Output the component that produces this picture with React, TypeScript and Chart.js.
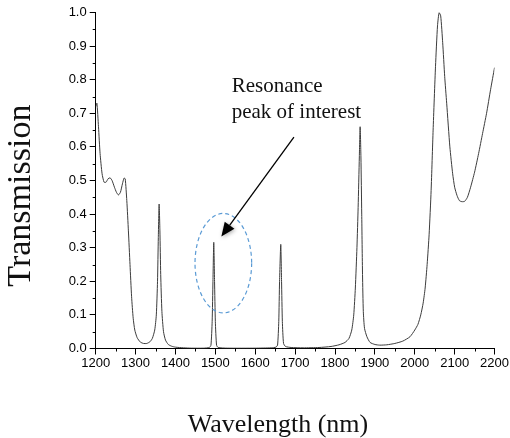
import React, { useEffect, useRef } from "react";
import { Chart, registerables } from "chart.js";

Chart.register(...registerables);

const wavelengths = [
  1200, 1203, 1207, 1211, 1216, 1221, 1226, 1231, 1236, 1241, 1247, 1252, 1257, 1262, 1267, 1271, 1274, 1278, 1282, 1286,
  1290, 1294, 1298, 1304, 1312, 1320, 1328, 1336, 1342, 1348, 1352, 1355, 1357, 1359, 1361, 1363, 1366, 1370, 1375, 1382,
  1390, 1400, 1420, 1440, 1470, 1485, 1489, 1492, 1494, 1496, 1498, 1500, 1503, 1507, 1530, 1600, 1640, 1652, 1656, 1659,
  1661, 1664, 1666, 1668, 1671, 1676, 1690, 1720, 1760, 1790, 1810, 1825, 1835, 1842, 1847, 1851, 1855, 1858, 1861, 1863,
  1865, 1867, 1869, 1871, 1874, 1880, 1888, 1900, 1912, 1930, 1950, 1970, 1988, 2000, 2008, 2015, 2021, 2026, 2031, 2036,
  2041, 2046, 2052, 2057, 2061, 2065, 2070, 2075, 2080, 2088, 2095, 2100, 2106, 2112, 2118, 2125, 2132, 2140, 2150, 2160,
  2170, 2180, 2190, 2200,
];

const transmission = [
  0.72, 0.73, 0.66, 0.58, 0.52, 0.495, 0.495, 0.505, 0.508, 0.50, 0.48, 0.465, 0.457, 0.465, 0.49, 0.507, 0.505, 0.44, 0.35, 0.25,
  0.154, 0.09, 0.055, 0.032, 0.019, 0.015, 0.015, 0.02, 0.03, 0.055, 0.10, 0.20, 0.33, 0.43, 0.35, 0.22, 0.11, 0.05, 0.025, 0.012,
  0.007, 0.004, 0.002, 0.001, 0.001, 0.003, 0.01, 0.08, 0.2, 0.316, 0.2, 0.08, 0.01, 0.003, 0.001, 0.001, 0.002, 0.004, 0.01, 0.08,
  0.2, 0.31, 0.2, 0.08, 0.015, 0.006, 0.003, 0.002, 0.003, 0.006, 0.011, 0.018, 0.03, 0.055, 0.10, 0.18, 0.30, 0.42, 0.57, 0.66,
  0.57, 0.40, 0.22, 0.11, 0.06, 0.035, 0.018, 0.012, 0.01, 0.011, 0.015, 0.022, 0.035, 0.055, 0.072, 0.10, 0.135, 0.18, 0.25, 0.34,
  0.47, 0.65, 0.84, 0.96, 1.0, 0.99, 0.91, 0.81, 0.73, 0.60, 0.52, 0.48, 0.455, 0.44, 0.437, 0.438, 0.45, 0.48, 0.525, 0.58,
  0.64, 0.70, 0.77, 0.836,
];

const xMinorTicks = [1250, 1350, 1450, 1550, 1650, 1750, 1850, 1950, 2050, 2150];
const yMinorTicks = [0.05, 0.15, 0.25, 0.35, 0.45, 0.55, 0.65, 0.75, 0.85, 0.95];

const xTitle = "Wavelength (nm)";
const yTitle = "Transmission";
const annotationLines = ["Resonance", "peak of interest"];

// annotation anchors in data units
const annotationTextAt = { x: 1541, y: 0.764 };
const annotationLineStep = 0.079;
const arrowFrom = { x: 1697, y: 0.629 };
const arrowTo = { x: 1515, y: 0.333 };
const ellipseAt = { x: 1520, y: 0.254, rx: 71, ry: 0.148 };
// axis title anchors (x title centre wavelength, y title centre transmission)
const xTitleCenter = 1657;
const yTitleCenter = 0.455;

const annotationPlugin = {
  id: "annotationPlugin",
  afterDraw(chart: any) {
    const { ctx, scales } = chart;
    const xs = scales.x;
    const ys = scales.y;
    ctx.save();

    // minor ticks
    ctx.strokeStyle = "#000";
    ctx.lineWidth = 1;
    const bottom = ys.getPixelForValue(0);
    const left = xs.getPixelForValue(1200);
    ctx.beginPath();
    for (const v of xMinorTicks) {
      const px = Math.round(xs.getPixelForValue(v)) + 0.5;
      ctx.moveTo(px, bottom);
      ctx.lineTo(px, bottom + 3);
    }
    for (const v of yMinorTicks) {
      const py = Math.round(ys.getPixelForValue(v)) + 0.5;
      ctx.moveTo(left - 3, py);
      ctx.lineTo(left, py);
    }
    ctx.stroke();

    // axis titles
    ctx.fillStyle = "#111";
    ctx.textAlign = "center";
    ctx.textBaseline = "alphabetic";
    ctx.font = "26px 'Liberation Serif'";
    ctx.fillText(xTitle, xs.getPixelForValue(xTitleCenter), chart.height - 6);
    ctx.save();
    ctx.translate(30, ys.getPixelForValue(yTitleCenter));
    ctx.rotate(-Math.PI / 2);
    ctx.font = "34px 'Liberation Serif'";
    ctx.fillText(yTitle, 0, 0);
    ctx.restore();

    // annotation text
    ctx.font = "21px 'Liberation Serif'";
    ctx.textAlign = "left";
    annotationLines.forEach((t, i) => {
      ctx.fillText(
        t,
        xs.getPixelForValue(annotationTextAt.x),
        ys.getPixelForValue(annotationTextAt.y - i * annotationLineStep)
      );
    });

    // ellipse
    const cx = xs.getPixelForValue(ellipseAt.x);
    const cy = ys.getPixelForValue(ellipseAt.y);
    const rx = xs.getPixelForValue(ellipseAt.x + ellipseAt.rx) - cx;
    const ry = cy - ys.getPixelForValue(ellipseAt.y + ellipseAt.ry);
    ctx.strokeStyle = "#5B9BD5";
    ctx.lineWidth = 1.2;
    ctx.setLineDash([4, 3]);
    ctx.beginPath();
    ctx.ellipse(cx, cy, rx, ry, 0, 0, Math.PI * 2);
    ctx.stroke();
    ctx.setLineDash([]);

    // arrow
    const x1 = xs.getPixelForValue(arrowFrom.x);
    const y1 = ys.getPixelForValue(arrowFrom.y);
    const x2 = xs.getPixelForValue(arrowTo.x);
    const y2 = ys.getPixelForValue(arrowTo.y);
    const ang = Math.atan2(y2 - y1, x2 - x1);
    const headLen = 14;
    const headW = 6;
    const bx = x2 - headLen * Math.cos(ang);
    const by = y2 - headLen * Math.sin(ang);
    ctx.strokeStyle = "#000";
    ctx.lineWidth = 1.3;
    ctx.beginPath();
    ctx.moveTo(x1, y1);
    ctx.lineTo(bx, by);
    ctx.stroke();
    ctx.shadowColor = "rgba(0,0,0,0.35)";
    ctx.shadowBlur = 4;
    ctx.shadowOffsetX = 1;
    ctx.shadowOffsetY = 1;
    ctx.fillStyle = "#000";
    ctx.beginPath();
    ctx.moveTo(x2, y2);
    ctx.lineTo(bx + headW * Math.sin(ang), by - headW * Math.cos(ang));
    ctx.lineTo(bx - headW * Math.sin(ang), by + headW * Math.cos(ang));
    ctx.closePath();
    ctx.fill();
    ctx.restore();
  },
};

export default function App() {
  const ref = useRef<HTMLCanvasElement | null>(null);
  useEffect(() => {
    if (!ref.current) return;
    const chart = new Chart(ref.current, {
      type: "line",
      data: {
        datasets: [
          {
            data: wavelengths.map((w, i) => ({ x: w, y: transmission[i] })),
            borderColor: "#3c3c3c",
            borderWidth: 1,
            pointRadius: 0,
            tension: 0.2,
            fill: false,
          },
        ],
      },
      options: {
        animation: false,
        responsive: false,
        devicePixelRatio: 1,
        layout: { padding: { left: 0, right: 15, top: 12.5, bottom: 0 } },
        plugins: {
          legend: { display: false },
          tooltip: { enabled: false },
        },
        scales: {
          x: {
            type: "linear",
            min: 1200,
            max: 2200,
            afterFit: (s: any) => {
              s.height = 89.5;
            },
            ticks: {
              stepSize: 100,
              color: "#000",
              padding: 1,
              maxRotation: 0,
              font: { family: "'Liberation Sans'", size: 13 },
              callback: (v: any) => String(v),
            },
            grid: { drawOnChartArea: false, drawTicks: true, tickLength: 6, color: "#000" },
            border: { display: true, color: "#000", width: 1 },
            title: { display: false, text: xTitle },
          },
          y: {
            type: "linear",
            min: 0,
            max: 1,
            afterFit: (s: any) => {
              s.width = 95.7;
            },
            ticks: {
              stepSize: 0.1,
              color: "#000",
              padding: 3,
              font: { family: "'Liberation Sans'", size: 13 },
              callback: (v: any) => Number(v).toFixed(1),
            },
            grid: { drawOnChartArea: false, drawTicks: true, tickLength: 6, color: "#000" },
            border: { display: true, color: "#000", width: 1 },
            title: { display: false, text: yTitle },
          },
        },
      },
      plugins: [annotationPlugin],
    });
    return () => chart.destroy();
  }, []);

  return (
    <div style={{ position: "fixed", left: 0, top: 0, width: 510, height: 438, background: "#fff" }}>
      <canvas ref={ref} width={510} height={438} style={{ width: 510, height: 438 }} />
    </div>
  );
}
